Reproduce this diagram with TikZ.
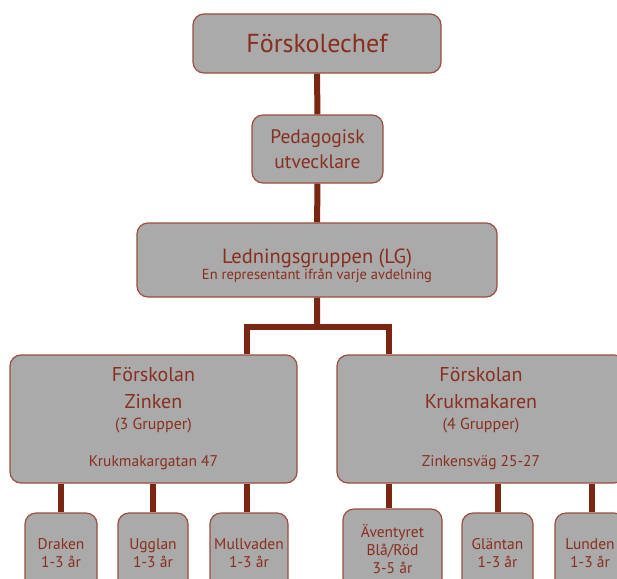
\documentclass[tikz,border=0pt]{standalone}
\usepackage{fontspec}
\setmainfont{PT Sans}
\definecolor{rust}{RGB}{122,38,18}
\definecolor{brick}{RGB}{136,46,30}
\definecolor{boxgray}{RGB}{170,170,170}

\begin{document}
\begin{tikzpicture}[x=1pt,y=-1pt,
    every node/.style={draw=brick!85,line width=1.2pt,fill=boxgray,text=brick,
      rounded corners=11pt,align=center,inner sep=0pt},
    unit/.style={minimum width=#1,minimum height=80pt,
      font=\fontsize{15.5}{18}\selectfont},
    link/.style={draw=rust,line width=6pt}]
	\useasboundingbox (0,0) rectangle (617,578);
	\clip (0,0) rectangle (617,578);

	\path (317,43.5) node[minimum width=248pt,minimum height=59pt,font=\fontsize{26}{30}\selectfont] (chef) {Förskolechef}
		(317.5,149) node[minimum width=131pt,minimum height=68pt,font=\fontsize{19.5}{25}\selectfont] (ped) {Pedagogisk\\utvecklare}
		(317,260) node[minimum width=360pt,minimum height=74pt,font=\fontsize{20.5}{16}\selectfont] (lg) {\rule{0pt}{27pt}Ledningsgruppen (LG)\\{\fontsize{14.5}{16}\selectfont En representant ifrån varje avdelning}}
		(153.5,419) node[minimum width=287pt,minimum height=128pt,font=\fontsize{20}{27}\selectfont] (zinken) {Förskolan\\Zinken\\[-6pt]{\fontsize{16}{17}\selectfont (3 Grupper)}\\[10pt]{\fontsize{15.5}{17}\selectfont Krukmakargatan 47}}
		(481,419) node[minimum width=288pt,minimum height=128pt,font=\fontsize{20}{27}\selectfont] (kruk) {Förskolan\\Krukmakaren\\[-6pt]{\fontsize{16}{17}\selectfont (4 Grupper)}\\[10pt]{\fontsize{15.5}{17}\selectfont Zinkensväg 25-27}};

	\path (61,553) node[unit=72pt] (draken) {Draken\\1-3 år}
		(153,553) node[unit=70pt] (ugglan) {Ugglan\\1-3 år}
		(249,553) node[unit=78pt] (mullvaden) {Mullvaden\\1-3 år}
		(392.5,549) node[unit=99pt] (aventyret) {Äventyret\\Blå/Röd\\3-5 år}
		(497.5,553) node[unit=71pt] (glantan) {Gläntan\\1-3 år}
		(590,553) node[unit=70pt] (lunden) {Lunden\\1-3 år};

	\draw[link] (chef) -- (ped)
		(ped) -- (lg)
		(lg.south) -- ++(0,29) coordinate (fork);
	\draw[link] ([xshift=93.5pt]zinken.north) |- (fork) -| ([xshift=-92pt]kruk.north);

	\draw[link] (draken.north) -- (draken.north |- zinken.south)
		(ugglan.north) -- (ugglan.north |- zinken.south)
		([xshift=-2pt]mullvaden.north) -- ([xshift=-2pt]mullvaden.north |- zinken.south)
		([xshift=-4pt]aventyret.north) -- ([xshift=-4pt]aventyret.north |- kruk.south)
		(glantan.north) -- (glantan.north |- kruk.south)
		([xshift=2pt]lunden.north) -- ([xshift=2pt]lunden.north |- kruk.south);
\end{tikzpicture}
\end{document}
